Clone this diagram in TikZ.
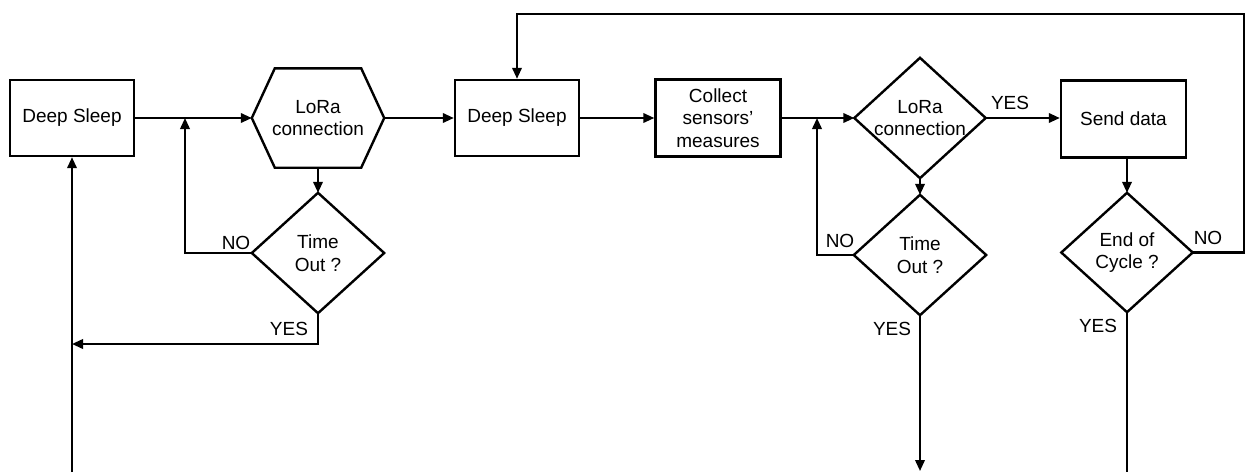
\documentclass[tikz,border=0pt]{standalone}
\usepackage{fontspec}
\setmainfont{Liberation Sans}
\usetikzlibrary{arrows.meta,calc}
\begin{document}
\begin{tikzpicture}[x=1pt,y=-1pt,
  txt/.style={font=\fontsize{19}{22.5}\selectfont, align=center, inner sep=0pt},
  box/.style={txt, draw, line width=2.4pt, minimum width=124pt, minimum height=76pt},
  dia/.style={txt, minimum width=132pt, minimum height=120pt},
  shp/.style={line width=2.4pt, line join=miter},
  conn/.style={line width=2.1pt},
  arr/.style={conn, -{Triangle[length=11pt,width=9.5pt]}},
  lbl/.style={txt}
]
\useasboundingbox (0,0) rectangle (1245,472);
% nodes
\node[box] (box1) at (72,118) {Deep Sleep};
\node[txt, minimum width=132pt, minimum height=99pt] (hex) at (318,118) {LoRa\\connection};
\draw[shp]
  (hex.west) -- ($(hex.north west)+(23,0)$) -- ($(hex.north east)+(-23,0)$) -- (hex.east)
  -- ($(hex.south east)+(-23,0)$) -- ($(hex.south west)+(23,0)$) -- cycle;
\node[dia] (to1) at (318,253) {Time\\Out ?};
\node[box] (box2) at (517,118) {Deep Sleep};
\node[box, minimum width=125pt, minimum height=77pt] (collect) at (718,118) {Collect\\sensors’\\measures};
\node[dia, minimum width=131pt] (lora2) at (920,118) {LoRa\\connection};
\node[dia] (to2) at (920,255) {Time\\Out ?};
\node[box, minimum width=125pt, minimum height=77pt] (send) at (1123.5,119) {Send data};
\node[dia, minimum width=131pt, minimum height=119pt] (eoc) at (1127,252.5) {End of\\Cycle ?};
\foreach \n in {to1,lora2,to2,eoc}
  \draw[shp] (\n.north) -- (\n.east) -- (\n.south) -- (\n.west) -- cycle;
% helper coordinates
\coordinate (j1) at (185,118);
\coordinate (y1) at (72,344);
\coordinate (b1) at (72,472);
\coordinate (tr) at (1244,14);
\coordinate (j2) at (817,118);
\coordinate (b2) at (920,471);
\coordinate (b3) at (1127,472);
% connectors
\draw[arr] (box1.east) -- (hex.west);
\draw[arr] (to1.west) -| (j1);
\draw[arr] (hex.south) -- (to1.north);
\draw[arr] (to1.south) |- (y1);
\draw[arr] (b1) -- (box1.south);
\draw[arr] (hex.east) -- (box2.west);
\draw[arr] (eoc.east) -| (tr) -| (box2.north);
\draw[arr] (box2.east) -- (collect.west);
\draw[arr] (collect.east) -- (lora2.west);
\draw[arr] (to2.west) -| (j2);
\draw[arr] (lora2.south) -- (to2.north);
\draw[arr] (lora2.east) -- (send.west |- lora2.east);
\draw[arr] (eoc.north |- send.south) -- (eoc.north);
\draw[arr] (to2.south) -- (b2);
\draw[conn] (eoc.south) -- (b3);
% labels
\node[lbl] (l1) at (236,243) {NO};
\node[lbl] (l2) at (289,329) {YES};
\node[lbl] (l3) at (1010,103) {YES};
\node[lbl] (l4) at (840,241) {NO};
\node[lbl] (l5) at (892,329) {YES};
\node[lbl] (l6) at (1208,238) {NO};
\node[lbl] (l7) at (1098,326) {YES};
\end{tikzpicture}
\end{document}
